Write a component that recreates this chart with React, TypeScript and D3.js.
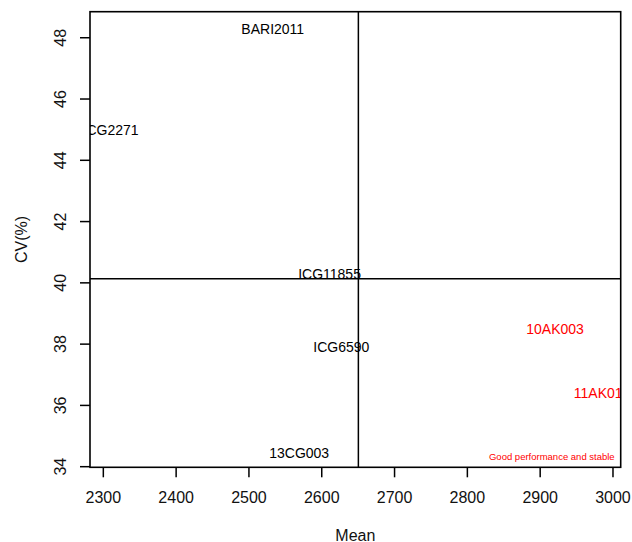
import React from "react";
import * as d3 from "d3";

const genotypes = ["BARI2011", "ICG2271", "ICG11855", "ICG6590", "10AK003", "11AK010", "13CG003"];
const meanValues = [2532.7, 2310, 2610.7, 2626.9, 2920.5, 2985, 2569];
const cvValues = [48.28, 44.99, 40.29, 37.9, 38.49, 36.4, 34.46];
const labelColors = ["#000", "#000", "#000", "#000", "red", "red", "#000"];
const xTicks = [2300, 2400, 2500, 2600, 2700, 2800, 2900, 3000];
const yTicks = [34, 36, 38, 40, 42, 44, 46, 48];
const grandMean = 2650.3;
const grandCV = 40.13;
const annotation = { text: "Good performance and stable", x: 2916, y: 34.32 };

const W = 632;
const H = 542;
const L = 90, R = 620.7, T = 11.7, B = 467.3;
const font = "'Liberation Sans', Arial, Helvetica, sans-serif";

export default function App() {
  const x = d3.scaleLinear().domain([2281.7, 3010.6]).range([L, R]);
  const y = d3.scaleLinear().domain([33.98, 48.85]).range([B, T]);
  const tickLen = 10;
  return (
    <svg width={W} height={H} style={{ position: "absolute", left: 0, top: 0, background: "#fff" }} fontFamily={font}>
      <defs>
        <clipPath id="plotclip">
          <rect x={L} y={T} width={R - L} height={B - T} />
        </clipPath>
      </defs>
      <rect x={0} y={0} width={W} height={H} fill="#fff" />
      <g clipPath="url(#plotclip)">
        <line x1={x(grandMean)} x2={x(grandMean)} y1={T} y2={B} stroke="#000" strokeWidth={1.5} />
        <line x1={L} x2={R} y1={y(grandCV)} y2={y(grandCV)} stroke="#000" strokeWidth={1.5} />
        {genotypes.map((g, i) => (
          <text key={g} x={x(meanValues[i])} y={y(cvValues[i])} textAnchor="middle" dominantBaseline="central" fontSize={14} fill={labelColors[i]}>
            {g}
          </text>
        ))}
        <text x={x(annotation.x)} y={y(annotation.y)} textAnchor="middle" dominantBaseline="central" fontSize={9.5} fill="red">
          {annotation.text}
        </text>
      </g>
      <rect x={L} y={T} width={R - L} height={B - T} fill="none" stroke="#000" strokeWidth={1.6} />
      {xTicks.map((t) => (
        <g key={t}>
          <line x1={x(t)} x2={x(t)} y1={B} y2={B + tickLen} stroke="#000" strokeWidth={1.5} />
          <text x={x(t)} y={497} textAnchor="middle" dominantBaseline="central" fontSize={16} fill="#111">{t}</text>
        </g>
      ))}
      {yTicks.map((t) => (
        <g key={t}>
          <line x1={L - tickLen} x2={L} y1={y(t)} y2={y(t)} stroke="#000" strokeWidth={1.5} />
          <text transform={`translate(60,${y(t)}) rotate(-90)`} textAnchor="middle" dominantBaseline="central" fontSize={16} fill="#111">{t}</text>
        </g>
      ))}
      <text x={(L + R) / 2} y={535} textAnchor="middle" dominantBaseline="central" fontSize={16} fill="#111">Mean</text>
      <text transform={`translate(21,${(T + B) / 2}) rotate(-90)`} textAnchor="middle" dominantBaseline="central" fontSize={16} fill="#111">CV(%)</text>
    </svg>
  );
}
